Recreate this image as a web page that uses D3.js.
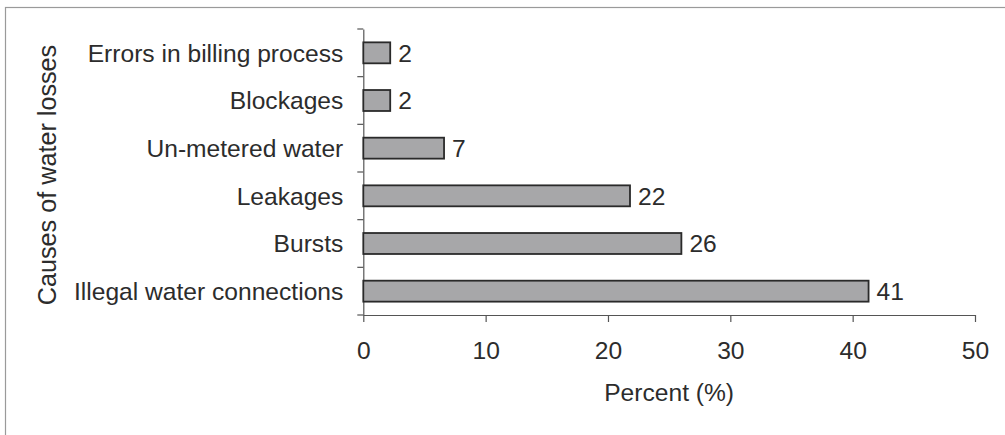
<!DOCTYPE html>
<html>
<head>
<meta charset="utf-8">
<script src="https://cdn.jsdelivr.net/npm/d3@7"></script>
<style>
	body { margin: 0; background: #fff; }
</style>
</head>
<body>
<script>
var causes = ["Errors in billing process", "Blockages", "Un-metered water", "Leakages", "Bursts", "Illegal water connections"];
var percents = [2.2, 2.2, 6.6, 21.8, 26.0, 41.3];
var valueLabels = ["2", "2", "7", "22", "26", "41"];
var xTicks = [0, 10, 20, 30, 40, 50];

var width = 1005;
var height = 435;
var margin = { left: 363.3, top: 29 };
var plotW = 975 - margin.left;
var plotH = 315 - margin.top;

var font = "Arial, 'Liberation Sans', sans-serif";
var ink = "#2c2c2c";
var fontSize = "24.6px";

var svg = d3.select("body").append("svg")
		.attr("width", width)
		.attr("height", height)
		.style("font-family", font)

// scanned frame, only top and left edges are inside the crop
svg.append("rect")
		.attr("x", 5.5)
		.attr("y", 7.5)
		.attr("width", width + 10)
		.attr("height", height + 10)
		.attr("fill", "none")
		.attr("stroke", "#9a9a9a")
		.attr("stroke-width", 1.2)

var g = svg.append("g")
		.attr("transform", "translate(" + margin.left + "," + margin.top + ")")

var x = d3.scaleLinear()
	.domain([0, 50])
	.range([0, plotW])

var y = d3.scaleBand()
	.domain(causes)
	.range([0, plotH])
	.paddingInner(0.56)
	.paddingOuter(0.28)

var xAxis = g.append("g")
	.attr("transform", "translate(0," + plotH + ")")
	.call(
		d3.axisBottom(x)
			.tickValues(xTicks)
			.tickSizeInner(7)
			.tickSizeOuter(0)
			.tickPadding(20)
	);

var yAxis = g.append("g")
	.call(
		d3.axisLeft(y)
			.tickValues([])
			.tickSizeOuter(0)
	);

// y ticks sit between the categories, not on them
g.append("g")
	.selectAll("line")
	.data(d3.range(causes.length + 1))
	.join("line")
		.attr("x1", -6)
		.attr("x2", 0)
		.attr("y1", i => plotH * i / causes.length)
		.attr("y2", i => plotH * i / causes.length)
		.attr("stroke", "#555")
		.attr("stroke-width", 1.2)

svg.selectAll(".domain, .tick line")
		.attr("stroke", "#555")
		.attr("stroke-width", 1.2)

xAxis.selectAll(".tick text")
		.attr("fill", ink)
		.style("font-size", fontSize)
		.style("font-family", font)

g.selectAll(".bar")
	.data(causes)
	.join("rect")
		.attr("class", "bar")
		.attr("x", 0)
		.attr("y", d => y(d))
		.attr("width", (d, i) => x(percents[i]))
		.attr("height", y.bandwidth())
		.attr("fill", "#a7a7a9")
		.attr("stroke", "#2a2a2a")
		.attr("stroke-width", 1.8)

g.selectAll(".value")
	.data(causes)
	.join("text")
		.attr("class", "value")
		.attr("x", (d, i) => x(percents[i]) + 8)
		.attr("y", d => y(d) + y.bandwidth() / 2)
		.attr("dy", "0.36em")
		.attr("fill", ink)
		.style("font-size", fontSize)
		.text((d, i) => valueLabels[i])

g.selectAll(".cause")
	.data(causes)
	.join("text")
		.attr("class", "cause")
		.attr("x", -20)
		.attr("y", d => y(d) + y.bandwidth() / 2)
		.attr("dy", "0.36em")
		.attr("text-anchor", "end")
		.attr("fill", ink)
		.style("font-size", fontSize)
		.text(d => d)

svg.append("text")
		.attr("x", margin.left + plotW / 2)
		.attr("y", 401)
		.attr("text-anchor", "middle")
		.attr("fill", ink)
		.style("font-size", fontSize)
		.text("Percent (%)")

svg.append("text")
		.attr("transform", "translate(56,175) rotate(-90)")
		.attr("text-anchor", "middle")
		.attr("fill", ink)
		.style("font-size", "25.2px")
		.text("Causes of water losses")
</script>
</body>
</html>
